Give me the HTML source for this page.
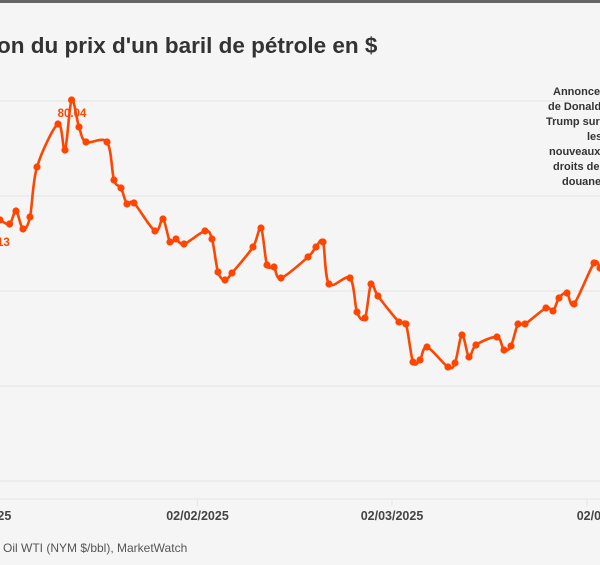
<!DOCTYPE html>
<html><head><meta charset="utf-8"><style>
html,body{margin:0;padding:0;background:#f5f5f5;}
svg{display:block;}
text{font-family:"Liberation Sans",sans-serif;}
</style></head><body>
<svg width="600" height="565" viewBox="0 0 600 565" xmlns="http://www.w3.org/2000/svg">
<rect width="600" height="565" fill="#f5f5f5"/>
<rect width="600" height="3" fill="#666"/>
<text x="-3" y="53" font-size="22.5" font-weight="bold" fill="#333">on du prix d'un baril de pétrole en $</text>
<g stroke="#e6e6e6" stroke-width="1.2">
<line x1="0" x2="600" y1="101" y2="101"/>
<line x1="0" x2="600" y1="196" y2="196"/>
<line x1="0" x2="600" y1="291" y2="291"/>
<line x1="0" x2="600" y1="386" y2="386"/>
<line x1="0" x2="600" y1="481" y2="481"/>
<line x1="0" x2="600" y1="499" y2="499"/>
<line x1="197.5" x2="197.5" y1="499" y2="506"/>
<line x1="392" x2="392" y1="499" y2="506"/>
<line x1="587" x2="587" y1="499" y2="506"/>
</g>
<g font-size="12.5" font-weight="bold" fill="#444" text-anchor="middle">
<text x="-20" y="520">02/01/2025</text>
<text x="197.5" y="520">02/02/2025</text>
<text x="392" y="520">02/03/2025</text>
<text x="608" y="520">02/04/2025</text>
</g>
<text x="3" y="552" font-size="12" fill="#555">Oil WTI (NYM $/bbl), MarketWatch</text>
<g font-size="11" font-weight="bold" fill="#333">
<text x="553" y="95">Annonces</text>
<text x="548" y="110">de Donald</text>
<text x="546" y="125">Trump sur</text>
<text x="587" y="140">les</text>
<text x="549" y="155">nouveaux</text>
<text x="553" y="170">droits de</text>
<text x="562" y="185">douanes</text>
</g>
<path id="ln" fill="none" stroke="#ff4500" stroke-width="2.6" stroke-linejoin="round" stroke-linecap="round"/>
<g id="dots" fill="#ff4500"></g>
<text x="72" y="117" font-size="11.5" font-weight="bold" fill="#ff4500" text-anchor="middle">80.04</text>
<text x="-3" y="246" font-size="11.5" font-weight="bold" fill="#ff4500">13</text>
</svg>
<script>
var p=[[-6,217],[0,220],[9.6,224],[16,211],[23,229],[30,217],[37,167],[58,124],[65,150],[71.6,100],[79,127],[86,142],[107,142],[114,180],[121,188],[127,204],[134,203],[155,231],[163,219],[170,242],[176,239],[184,244],[205,231],[212,239],[218,272],[225,280],[232,273],[253,247],[261,228],[267,265],[274,267],[281,278],[308,257],[316,247],[323,242],[329,284],[350,278],[357,312],[365,318],[371,284],[378,296],[399,322],[406,324],[413,362],[420,360],[427,347],[448,367],[455,363],[462,335],[469,357],[476,345],[497,337],[504,350],[511,346],[518,324],[525,324],[546,308],[553,311],[559,298],[567,293],[574,304],[594,263],[600,268],[606,270]];
var d="M"+p[0][0]+","+p[0][1],t=0.16;
for(var i=0;i<p.length-1;i++){var a=p[i-1]||p[i],b=p[i],c=p[i+1],e=p[i+2]||c;
d+=" C"+(b[0]+(c[0]-a[0])*t)+","+(b[1]+(c[1]-a[1])*t)+" "+(c[0]-(e[0]-b[0])*t)+","+(c[1]-(e[1]-b[1])*t)+" "+c[0]+","+c[1];}
document.getElementById("ln").setAttribute("d",d);
var g=document.getElementById("dots"),s="";
for(var i=1;i<p.length-1;i++)s+='<circle cx="'+p[i][0]+'" cy="'+p[i][1]+'" r="3.6"/>';
g.innerHTML=s;
</script>
</body></html>
